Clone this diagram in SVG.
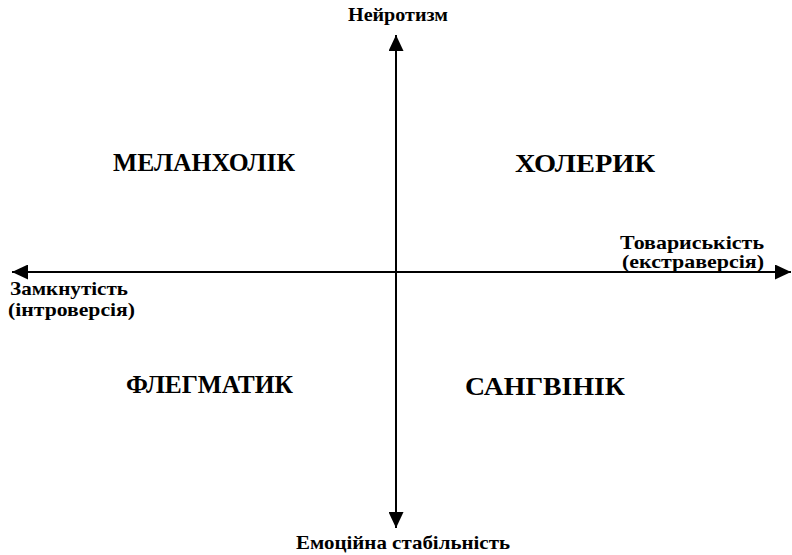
<svg xmlns="http://www.w3.org/2000/svg" width="792" height="555" viewBox="0 0 792 555">
<defs>
<marker id="ah" viewBox="0 0 16 15" refX="16" refY="7.5" markerWidth="16" markerHeight="15" markerUnits="userSpaceOnUse" orient="auto">
<path d="M0,0 L16,7.5 L0,15 Z" fill="#000"/>
</marker>
<style>
.ax{stroke:#000;stroke-width:2;fill:none}
.lbl{font-family:'Liberation Serif','Times New Roman',serif;font-weight:bold;font-size:19px;fill:#000}
.q{font-family:'Liberation Serif','Times New Roman',serif;font-weight:bold;font-size:25px;fill:#000}
</style>
</defs>
<rect width="792" height="555" fill="#fff"/>
<g id="connectors">
<line class="ax" x1="396" y1="272" x2="396" y2="35" marker-end="url(#ah)"/>
<line class="ax" x1="396" y1="272" x2="396" y2="528" marker-end="url(#ah)"/>
<line class="ax" x1="396" y1="272" x2="12" y2="272" marker-end="url(#ah)"/>
<line class="ax" x1="396" y1="272" x2="791" y2="272" marker-end="url(#ah)"/>
</g>
<g id="neuroticism"><text class="lbl" x="348" y="21" textLength="100" lengthAdjust="spacingAndGlyphs">Нейротизм</text></g>
<g id="stability"><text class="lbl" x="296" y="549" textLength="214" lengthAdjust="spacingAndGlyphs">Емоційна стабільність</text></g>
<g id="introversion"><text class="lbl" x="10" y="295" textLength="118" lengthAdjust="spacingAndGlyphs">Замкнутість</text><text class="lbl" x="8" y="316" textLength="127" lengthAdjust="spacingAndGlyphs">(інтроверсія)</text></g>
<g id="extraversion"><text class="lbl" x="620" y="249" textLength="144" lengthAdjust="spacingAndGlyphs">Товариськість</text><text class="lbl" x="622" y="268" textLength="142" lengthAdjust="spacingAndGlyphs">(екстраверсія)</text></g>
<g id="melancholic"><text class="q" x="113" y="171" textLength="182" lengthAdjust="spacingAndGlyphs">МЕЛАНХОЛІК</text></g>
<g id="choleric"><text class="q" x="515" y="172" textLength="140" lengthAdjust="spacingAndGlyphs">ХОЛЕРИК</text></g>
<g id="phlegmatic"><text class="q" x="126" y="393" textLength="167" lengthAdjust="spacingAndGlyphs">ФЛЕГМАТИК</text></g>
<g id="sanguine"><text class="q" x="465" y="395" textLength="160" lengthAdjust="spacingAndGlyphs">САНГВІНІК</text></g>
</svg>
